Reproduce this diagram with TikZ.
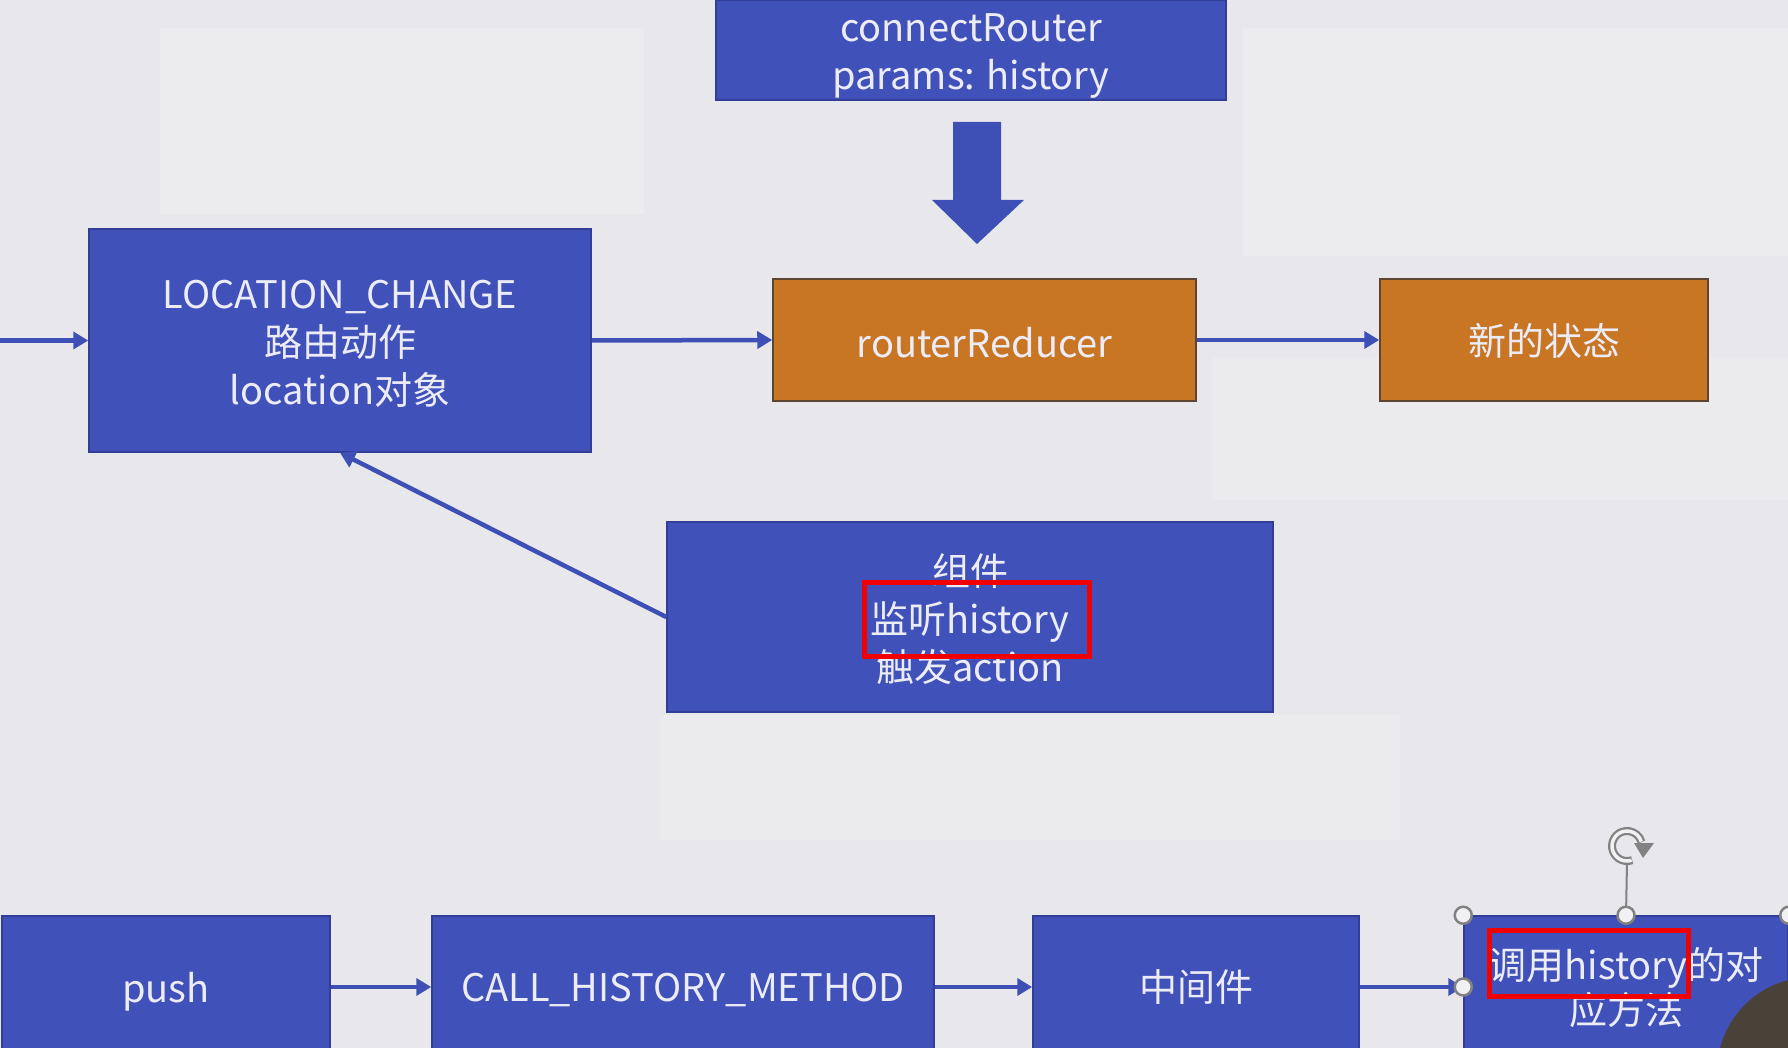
\documentclass[tikz,border=0pt]{standalone}
\usepackage{fontspec}
\setmainfont{Noto Sans CJK SC}
\usetikzlibrary{arrows.meta}
\definecolor{bg}{RGB}{232,232,236}
\definecolor{boxblue}{RGB}{64,82,185}
\definecolor{blueedge}{RGB}{50,62,150}
\definecolor{boxorange}{RGB}{200,117,36}
\definecolor{orangeedge}{RGB}{90,70,50}
\definecolor{boxtext}{RGB}{236,236,246}
\definecolor{arrblue}{RGB}{62,80,182}
\definecolor{redmark}{RGB}{240,0,0}
\definecolor{handle}{RGB}{130,130,130}
\definecolor{avatar}{RGB}{74,66,56}
\tikzset{
  box/.style={rectangle, inner sep=0pt, line width=1.5pt},
  bluebox/.style={box, fill=boxblue, draw=blueedge},
  orangebox/.style={box, fill=boxorange, draw=orangeedge},
  lbl/.style={inner sep=0pt, align=center, text=boxtext, font=\fontsize{38}{48}\selectfont},
  arr/.style={draw=arrblue, line width=4.5pt, -{Triangle[length=15pt,width=17pt]}},
  redframe/.style={draw=redmark, line width=5pt},
  handledot/.style={circle, draw=handle, fill=bg!60!white, line width=2.5pt, minimum size=17pt, inner sep=0pt},
}
\begin{document}
\begin{tikzpicture}[x=1pt,y=-1pt]
\useasboundingbox (0,0) rectangle (1788,1048);
\clip (0,0) rectangle (1788,1048);
\fill[bg] (0,0) rectangle (1788,1048);
% faint background patches
\fill[white,opacity=0.2] (160,28) rectangle (644,214);
\fill[white,opacity=0.2] (1243,28) rectangle (1788,256);
\fill[white,opacity=0.15] (1212,358) rectangle (1788,500);
\fill[white,opacity=0.15] (660,715) rectangle (1400,840);

% boxes
\node[bluebox, minimum width=510pt, minimum height=100pt] (cr) at (971,50) {};
\node[bluebox, minimum width=502pt, minimum height=223pt] (lc) at (340,340.5) {};
\node[orangebox, minimum width=423pt, minimum height=122pt] (rr) at (984.5,340) {};
\node[orangebox, minimum width=328pt, minimum height=122pt] (ns) at (1544,340) {};
\node[bluebox, minimum width=606pt, minimum height=190pt] (comp) at (970,617) {};
\node[bluebox, minimum width=328pt, minimum height=142pt] (push) at (166,987) {};
\node[bluebox, minimum width=502pt, minimum height=142pt] (chm) at (683,987) {};
\node[bluebox, minimum width=326pt, minimum height=142pt] (mid) at (1196,987) {};
\node[bluebox, minimum width=324pt, minimum height=142pt] (call) at (1626,987) {};

% texts
\node[lbl] (crt) at ([yshift=-6.5pt]cr.center) {connectRouter\\params: history};
\node[lbl] (lct) at ([yshift=-3.5pt]lc.center) {LOCATION\_CHANGE\\路由动作\\location对象};
\node[lbl] (rrt) at ([yshift=-2.5pt]rr.center) {routerReducer};
\node[lbl] (nst) at ([yshift=-1pt]ns.center) {新的状态};
\node[lbl] (compt) at ([yshift=-2pt]comp.center) {组件\\监听history\\触发action};
\node[lbl] (pusht) at ([yshift=-4.5pt]push.center) {push};
\node[lbl] (chmt) at ([yshift=-3pt]chm.center) {CALL\_HISTORY\_METHOD};
\node[lbl] (midt) at (mid.center) {中间件};
\node[lbl, font=\fontsize{38}{45}\selectfont] (callt) at ([yshift=-1pt]call.center) {调用history的对\\应方法};

% block arrow
\coordinate (ba) at (977,122);
\fill[arrblue] (ba) ++(-24,0) -- ++(48,0) -- ++(0,78) -- ++(23,0) -- (977,244) -- (932,200) -- (953,200) -- cycle;

% connectors
\coordinate (lin) at (0,340.5);
\draw[arr] (lin) -- (lc.west);
\draw[arr] (lc.east) -- (rr.west);
\draw[arr] (rr.east) -- (ns.west);
\draw[arr] (comp.west) -- (lc.south);
\draw[arr] (push.east) -- (chm.west);
\draw[arr] (chm.east) -- (mid.west);
\draw[arr] (mid.east) -- (call.west);

% red highlight frames
\draw[redframe] (864,582) rectangle (1089,656);
\draw[redframe] (1489,930) rectangle (1688,996);

% avatar circle
\fill[avatar] (1812,1072) circle (95);

% selection handles
\coordinate (rot) at (1627,846);
\draw[handle, line width=2pt] (call.north) -- (1627,862);
\draw[handle, line width=8pt] (rot) ++(70:15) arc[start angle=70, end angle=345, radius=15];
\draw[bg!60!white, line width=3.5pt] (rot) ++(72:15) arc[start angle=72, end angle=343, radius=15];
\fill[handle] (1634,843) -- (1654,843) -- (1643,858) -- cycle;
\node[handledot] (h1) at (call.north west) {};
\node[handledot] (h2) at (call.north) {};
\node[handledot] (h3) at (call.north east) {};
\node[handledot] (h4) at (call.west) {};
\end{tikzpicture}
\end{document}
